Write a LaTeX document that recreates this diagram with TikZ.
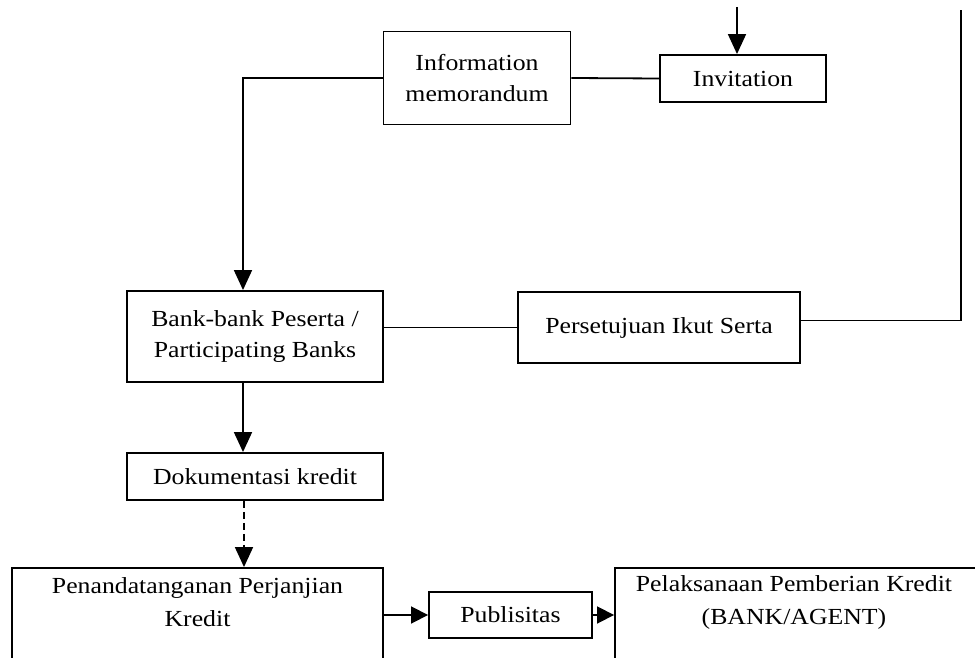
\documentclass[tikz,border=0pt]{standalone}
\usepackage{fontspec}
\setmainfont{Liberation Serif}[FakeStretch=1.12]
\usetikzlibrary{arrows.meta}
\begin{document}
\begin{tikzpicture}[x=1pt,y=-1pt,
  box/.style={draw, line width=1.9pt, inner sep=0pt, align=center, font=\fontsize{23}{31}\selectfont},
  txt/.style={inner sep=0pt, align=center, font=\fontsize{23}{33}\selectfont},
  conn/.style={line width=1.8pt},
  arr/.style={conn, -{Triangle[length=20pt,width=18pt]}},
  sarr/.style={conn, -{Triangle[length=17pt,width=17pt]}}]
\useasboundingbox (0,0) rectangle (975,658);
\clip (0,0) rectangle (975,658);

% boxes
\node[box, minimum width=187pt, minimum height=93pt] (info) at (477,78) {Information\\memorandum};
\node[box, minimum width=166pt, minimum height=47pt] (inv) at (743,78.5) {Invitation};
\node[box, minimum width=256pt, minimum height=91pt] (bank) at (255,336.5) {Bank-bank Peserta /\\Participating Banks};
\node[box, minimum width=282pt, minimum height=71pt] (pers) at (659,327.5) {Persetujuan Ikut Serta};
\node[box, minimum width=256pt, minimum height=47pt] (dok) at (255,476.5) {Dokumentasi kredit};
\node[box, minimum width=371pt, minimum height=100pt] (pen) at (197.5,618) {};
\node[txt] (pentext) at (197.5,602) {Penandatanganan Perjanjian\\Kredit};
\node[box, minimum width=163pt, minimum height=46pt] (pub) at (510.5,615) {Publisitas};
\node[box, minimum width=380pt, minimum height=100pt] (pel) at (805,618) {};
\node[txt] (peltext) at (794,602) {Pelaksanaan Pemberian Kredit\\(BANK/AGENT)};

% free ends
\coordinate (topin) at (737,7);
\coordinate (rc) at (961,320.5);
\coordinate (rtop) at (961,10);

% connectors
\draw[arr] (topin) -- (topin |- inv.north);
\draw[conn] (info.east) -- (inv.west);
\draw[arr] (info.west) -| ([xshift=-12pt]bank.north);
\draw[conn] (pers.west -| bank.east) -- (pers.west);
\draw[conn] ([yshift=7pt]pers.east) -- (rc) -- (rtop);
\draw[arr] ([xshift=-12pt]bank.south) -- ([xshift=-12pt]dok.north);
\draw[arr, dash pattern=on 7pt off 4pt] ([xshift=-11pt]dok.south) -- ([xshift=-11pt]dok.south |- pen.north);
\draw[sarr] (pub.west -| pen.east) -- (pub.west);
\draw[sarr] (pub.east) -- (pub.east -| pel.west);
\end{tikzpicture}
\end{document}
